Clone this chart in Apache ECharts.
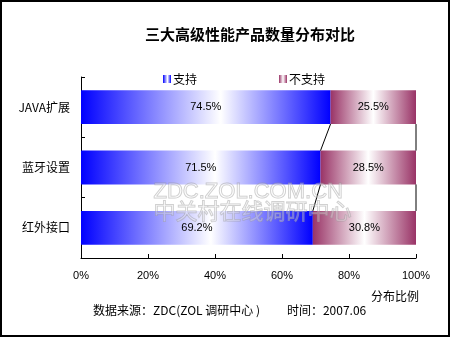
<!DOCTYPE html>
<html><head><meta charset="utf-8">
<script src="https://cdn.jsdelivr.net/npm/echarts@6/dist/echarts.min.js"></script>
<style>html,body{margin:0;padding:0;background:#fff}#c{width:450px;height:337px}</style>
</head><body><div id="c"></div>
<script>
const categories = ['JAVA扩展', '蓝牙设置', '红外接口'];
const supportVals = [74.5, 71.5, 69.2];
const noSupportVals = [25.5, 28.5, 30.8];
const xTicks = [0, 20, 40, 60, 80, 100];

const CJK = '"Noto Sans CJK SC", "SimSun", sans-serif';
const LAT = '"Liberation Sans", Arial, sans-serif';
const BAR_RATIO = 0.56;

const blueGrad = new echarts.graphic.LinearGradient(0, 0, 1, 0, [
  {offset: 0, color: '#0000ff'}, {offset: 0.56, color: '#ffffff'}, {offset: 1, color: '#0000ff'}]);
const redGrad = new echarts.graphic.LinearGradient(0, 0, 1, 0, [
  {offset: 0, color: '#993366'}, {offset: 0.5, color: '#ffffff'}, {offset: 1, color: '#993366'}]);

const lineData = [];
for (let i = 0; i < categories.length - 1; i++) {
  lineData.push([i, supportVals[i], supportVals[i + 1], 100]);
}

const chart = echarts.init(document.getElementById('c'));
chart.setOption({
  animation: false,
  backgroundColor: '#fff',
  title: {
    text: '三大高级性能产品数量分布对比', left: 245, top: 22, textAlign: 'center',
    textStyle: {fontFamily: CJK, fontSize: 15, fontWeight: 'bold', color: '#000'}
  },
  legend: [
    {data: ['支持'], icon: 'rect', left: 158, top: 68, itemWidth: 8, itemHeight: 8, itemGap: 4,
     textStyle: {fontFamily: CJK, fontSize: 12, color: '#000', padding: [0,0,0,-3]}},
    {data: ['不支持'], icon: 'rect', left: 274, top: 68, itemWidth: 8, itemHeight: 8,
     textStyle: {fontFamily: CJK, fontSize: 12, color: '#000', padding: [0,0,0,-3]}}
  ],
  grid: {left: 81, right: 34, top: 77, bottom: 79},
  xAxis: {
    type: 'value', min: 0, max: 100, interval: 20,
    axisLine: {show: true, lineStyle: {color: '#000', width: 1}},
    axisTick: {show: true, inside: true, length: 4, lineStyle: {color: '#000'}},
    splitLine: {show: false},
    axisLabel: {formatter: v => xTicks.includes(v) ? v + '%' : '', margin: 12,
      fontFamily: LAT, fontSize: 11, color: '#000'}
  },
  yAxis: {
    type: 'category', data: categories, inverse: true,
    axisLine: {show: true, lineStyle: {color: '#000', width: 1}},
    axisTick: {show: true, inside: true, length: 4, lineStyle: {color: '#000'}},
    axisLabel: {margin: 11, fontFamily: CJK, fontSize: 12, color: '#000'}
  },
  series: [
    {name: '支持', type: 'bar', stack: 't', data: supportVals, barWidth: (BAR_RATIO*100)+'%',
     itemStyle: {color: blueGrad},
     label: {show: true, position: 'inside', formatter: p => p.value + '%',
       fontFamily: LAT, fontSize: 11, color: '#000'}},
    {name: '不支持', type: 'bar', stack: 't', data: noSupportVals,
     itemStyle: {color: redGrad},
     label: {show: true, position: 'inside', formatter: p => p.value + '%',
       fontFamily: LAT, fontSize: 11, color: '#000'}},
    {type: 'custom', data: lineData, encode: {x: [1, 2], y: 0}, z: 5, silent: true,
     renderItem: function (params, api) {
       const i = api.value(0);
       const band = api.size([0, 1])[1];
       const h = band * BAR_RATIO / 2;
       const a = api.coord([api.value(1), i]);
       const b = api.coord([api.value(2), i + 1]);
       const c = api.coord([api.value(3), i]);
       const d = api.coord([api.value(3), i + 1]);
       return {type: 'group', children: [
         {type: 'line', shape: {x1: a[0], y1: a[1] + h, x2: b[0], y2: b[1] - h}, style: {stroke: '#000', lineWidth: 1}},
         {type: 'line', shape: {x1: c[0], y1: c[1] + h, x2: d[0], y2: d[1] - h}, style: {stroke: '#000', lineWidth: 1}}
       ]};
     }}
  ],
  graphic: [
    {type: 'text', left: 371, top: 290, style: {text: '分布比例', font: '12px ' + CJK, fill: '#000'}},
    {type: 'text', left: 93, top: 304, style: {text: '数据来源：ZDC(ZOL 调研中心 )          时间：2007.06', font: '12px ' + CJK, fill: '#000'}},
    {type: 'text', left: 153, top: 180, z: 100, style: {text: 'ZDC.ZOL.COM.CN', font: '22px ' + LAT,
      fill: 'rgba(255,255,255,0.25)', stroke: 'rgba(150,150,150,0.5)', lineWidth: 1}},
    {type: 'text', left: 153, top: 199, z: 100, style: {text: '中关村在线调研中心', font: '22px ' + CJK,
      fill: 'rgba(255,255,255,0.25)', stroke: 'rgba(150,150,150,0.5)', lineWidth: 1}},
    {type: 'rect', z: 200, shape: {x: 1, y: 1, width: 448, height: 335}, style: {fill: 'none', stroke: '#000', lineWidth: 2}}
  ]
});
</script></body></html>
